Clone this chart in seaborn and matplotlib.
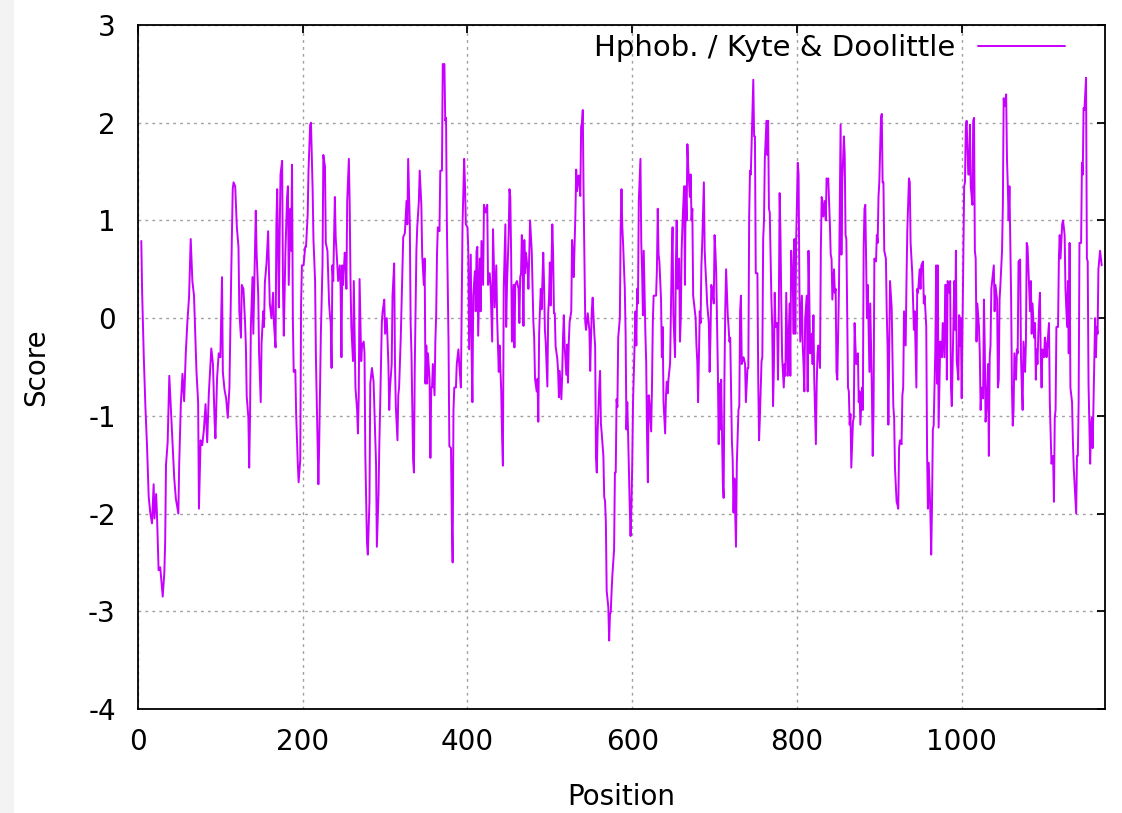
import matplotlib
matplotlib.use("Agg")
import matplotlib.pyplot as plt
import seaborn as sns
from matplotlib.patches import Rectangle

# Kyte & Doolittle hydropathy profile in ten stretches
pos1 = [4, 5, 7, 9, 11, 13, 15, 17, 19, 20, 22, 23, 25, 27, 30, 32, 33, 34, 36, 38,
        40, 42, 44, 46, 49, 50, 52, 54, 56, 58, 60, 62, 64, 66, 68, 70, 71, 73, 74, 76,
        78, 80, 82, 84, 86, 89, 91, 93, 94, 96, 98, 100, 102, 103, 105, 107, 109, 111, 113, 115,
        116]
sc1 = [0.79, 0.27, -0.39, -0.91, -1.32, -1.83, -2.0, -2.1, -1.7, -2.05, -1.8, -2.0, -2.58, -2.55, -2.85, -2.6, -2.28, -1.5, -1.27, -0.59,
       -0.94, -1.29, -1.64, -1.85, -2.0, -1.5, -0.88, -0.57, -0.85, -0.36, -0.03, 0.22, 0.81, 0.38, 0.23, -0.28, -0.55, -0.86, -1.95, -1.25,
       -1.3, -1.14, -0.88, -1.27, -0.77, -0.31, -0.47, -1.06, -1.23, -0.61, -0.36, -0.4, 0.42, -0.55, -0.73, -0.82, -1.02, -0.71, 0.36, 1.32,
       1.39]

pos2 = [118, 120, 122, 123, 125, 126, 128, 130, 131, 132, 134, 135, 136, 137, 139, 140, 142, 143, 144, 146,
        147, 149, 150, 152, 153, 154, 156, 158, 159, 160, 162, 164, 165, 167, 168, 169, 171, 172, 173, 175,
        176, 177, 179, 181, 182, 183, 185, 186, 187, 188, 189, 191, 192, 194, 195, 197, 198, 199, 201, 203,
        204, 206, 207, 209, 210, 212, 213, 215, 216, 218, 219, 220, 222, 224, 225, 227, 228, 230, 232, 233]
sc2 = [1.35, 0.93, 0.73, 0.07, -0.2, 0.34, 0.3, -0.05, -0.3, -0.8, -1.02, -1.53, -1.02, -0.09, 0.42, -0.16, 0.69, 1.1, 0.67, 0.23,
       -0.36, -0.86, -0.26, 0.07, -0.09, 0.36, 0.56, 0.89, 0.48, 0.15, 0.0, 0.26, -0.05, -0.3, 0.96, 1.32, 0.11, 0.85, 1.47, 1.61,
       0.34, -0.18, 0.69, 1.24, 1.35, 0.34, 1.12, 0.69, 1.57, 0.0, -0.55, -0.53, -0.98, -1.49, -1.68, -1.45, 0.15, 0.54, 0.54, 0.73,
       0.73, 1.06, 1.51, 1.98, 2.0, 1.32, 0.81, 0.38, -0.4, -1.27, -1.7, -1.29, -0.16, 0.54, 1.67, 1.55, 0.77, 0.69, 0.15, 0.03]

pos3 = [234, 235, 236, 237, 239, 240, 241, 243, 245, 246, 247, 248, 249, 251, 252, 253, 254, 256, 257, 258,
        259, 261, 262, 264, 266, 267, 268, 269, 271, 272, 274, 275, 276, 278, 279, 281, 282, 284, 286, 287,
        289, 290, 292, 293, 294, 296, 297, 299, 300, 302, 304, 305, 306, 308, 309, 311, 312, 313, 315, 316,
        317, 319, 321, 322, 324, 326, 327, 328, 330, 331, 332, 334, 335, 336, 338, 339, 341, 342, 344, 345,
        347, 348, 349]
sc3 = [-0.05, -0.51, 0.54, 0.38, 1.24, 0.83, 0.69, 0.38, 0.54, 0.3, -0.4, 0.54, 0.34, 0.67, 0.6, 0.3, 1.2, 1.63, 1.16, 0.38,
       -0.09, -0.44, 0.38, -0.71, -0.94, -1.18, -0.79, 0.4, -0.44, -0.28, -0.24, -0.36, -1.41, -2.3, -2.42, -1.88, -0.67, -0.51, -0.65, -0.94,
       -1.49, -2.34, -1.8, -1.29, -0.9, -0.05, 0.07, 0.19, -0.16, 0.0, -0.47, -0.94, -0.71, -0.47, 0.23, 0.56, -0.47, -0.9, -1.25, -0.79,
       -0.71, -0.2, 0.46, 0.83, 0.87, 1.2, 0.96, 1.63, 0.96, -0.05, -0.36, -1.45, -1.58, -0.51, 0.69, 0.93, 1.2, 1.51, 1.16, 0.65,
       0.34, 0.61, -0.67]

pos4 = [350, 351, 352, 354, 355, 356, 357, 358, 360, 361, 362, 363, 364, 366, 367, 369, 370, 372, 373, 374,
        375, 377, 378, 380, 381, 382, 383, 384, 386, 387, 389, 390, 392, 394, 396, 397, 398, 400, 401, 402,
        404, 405, 406, 407, 409, 410, 411, 412, 413, 415, 416, 417, 419, 420, 422, 424, 425, 427, 428, 430,
        431, 432, 433, 435, 436, 437, 438, 439, 441, 442, 443, 444, 446, 447, 448, 450, 451, 452, 453, 454,
        456, 457, 458, 460, 462, 463, 464, 465, 466]
sc4 = [-0.28, -0.67, -0.36, -0.63, -1.43, -0.71, -0.71, -0.47, -0.79, -0.24, 0.03, 0.65, 0.93, 0.89, 1.51, 1.51, 2.6, 2.6, 2.02, 2.05,
       0.96, -0.24, -1.31, -1.33, -2.07, -2.5, -0.94, -0.71, -0.71, -0.47, -0.32, -0.47, -0.71, 0.96, 1.63, 1.35, 0.96, 0.93, 0.69, -0.32,
       0.65, -0.36, -0.86, 0.23, 0.48, 0.07, 0.69, 0.73, -0.18, 0.61, 0.07, 0.79, 0.34, 1.16, 1.08, 1.16, 0.34, 0.46, 0.34, -0.24,
       0.91, 0.58, 0.11, 0.54, 0.0, -0.28, -0.55, -0.28, -0.75, -1.21, -1.51, 0.3, 0.96, -0.09, 0.34, 0.85, 1.32, 1.24, 0.65, -0.24,
       0.34, -0.3, 0.34, 0.38, 0.3, -0.05, 0.42, 0.46, 0.85]

pos5 = [467, 468, 469, 470, 471, 473, 474, 475, 476, 478, 479, 480, 481, 482, 484, 485, 486, 487, 488, 489,
        490, 492, 493, 494, 495, 497, 498, 499, 500, 501, 503, 504, 505, 506, 507, 509, 510, 511, 512, 514,
        515, 516, 517, 518, 520, 521, 522, 523, 524, 526, 527, 528, 529, 531, 532, 533, 534, 535, 537, 538,
        539, 540, 541, 543, 544, 545, 546, 548, 549, 550, 551, 552, 554, 555, 556, 557, 558, 560, 561, 562,
        563, 565, 566, 567, 568, 569, 571, 572, 573, 574, 575, 576, 578, 579, 580, 581, 582]
sc5 = [0.46, -0.08, 0.8, 0.46, 0.67, 0.5, 0.3, 0.67, 1.0, 0.69, 0.34, -0.04, -0.2, -0.62, -0.75, -0.62, -1.06, -0.16, 0.09, 0.3,
       0.09, 0.67, 0.34, -0.12, -0.25, -0.7, 0.05, 0.21, 0.57, 0.13, 0.96, 0.65, 0.05, 0.05, -0.29, -0.41, -0.54, -0.81, -0.54, -0.83,
       -0.58, -0.2, 0.03, -0.29, -0.58, -0.27, -0.66, -0.25, -0.04, 0.07, 0.8, 0.67, 0.42, 1.05, 1.52, 1.3, 1.42, 1.46, 1.25, 1.96,
       2.0, 2.13, 1.23, -0.04, -0.12, -0.04, 0.05, -0.12, -0.54, -0.2, 0.09, 0.21, -0.16, -0.29, -1.43, -1.58, -1.16, -0.7, -0.54, -1.08,
       -1.18, -1.41, -1.83, -1.87, -2.08, -2.79, -2.96, -3.3, -3.04, -3.0, -2.79, -2.62, -2.37, -1.58, -1.58, -0.83, -0.91]

pos6 = [583, 585, 586, 587, 588, 589, 591, 592, 593, 594, 595, 597, 598, 599, 600, 601, 602, 604, 605, 606,
        607, 608, 610, 611, 612, 613, 614, 616, 617, 618, 619, 620, 621, 623, 624, 625, 626, 627, 629, 630,
        631, 632, 633, 635, 636, 637, 638, 640, 641, 642, 643, 644, 646, 647, 648, 649, 650, 652, 653, 654,
        655, 657, 658, 659, 660, 661, 663, 664, 665, 666, 667, 668, 670, 671, 672, 673, 674, 676, 677, 678,
        679, 680, 682, 683, 684, 685, 687, 688, 689, 690, 691, 693, 694, 695, 696, 697, 699, 700]
sc6 = [-0.2, 0.0, 0.93, 1.32, 0.93, 0.75, 0.3, -0.16, -1.14, -0.86, -1.18, -1.93, -2.23, -1.95, -1.51, -0.86, -0.55, 0.07, -0.28, 0.3,
       0.15, 1.2, 1.63, 0.77, 0.48, 0.03, 0.69, -0.16, -0.46, -1.21, -1.68, -0.79, -0.86, -1.16, -0.71, -0.05, 0.23, 0.23, 0.23, 0.5,
       1.12, 0.65, 0.58, 0.19, -0.4, -0.09, -0.86, -1.18, -0.79, -0.65, -0.77, -0.63, -0.46, 0.11, 0.61, 0.93, 0.03, -0.4, 0.52, 1.0,
       0.3, 0.61, -0.24, 0.0, 0.69, 0.96, 1.35, 0.34, 1.35, 1.0, 1.78, 1.55, 1.24, 1.47, 1.0, 1.12, 0.23, 0.07, 0.0, -0.28,
       -0.44, -0.86, 0.07, -0.05, 0.54, 0.77, 1.39, 0.69, 0.5, 0.34, 0.15, -0.05, -0.55, -0.2, 0.34, 0.3, 0.15, 0.85]

pos7 = [701, 702, 704, 705, 706, 707, 708, 710, 711, 712, 713, 714, 716, 717, 718, 719, 721, 722, 723, 724,
        725, 726, 727, 729, 730, 731, 732, 733, 735, 736, 737, 738, 740, 741, 742, 743, 744, 746, 747, 748,
        749, 750, 752, 753, 754, 755, 757, 758, 759, 760, 761, 763, 764, 765, 766, 767, 769, 770, 771, 772,
        773, 774, 776, 777, 778, 779, 780, 781, 782, 784, 785, 786, 787, 789, 790, 791, 792, 793, 795, 796,
        797, 798, 799, 801, 802, 803, 804, 806, 807, 808, 809, 810, 812, 813, 814, 815, 816]
sc7 = [0.69, 0.46, -0.55, -1.29, -0.67, -1.14, -0.63, -1.68, -1.84, -0.59, 0.11, 0.5, 0.03, -0.09, -0.24, -0.2, -1.25, -1.45, -1.99, -1.64,
       -1.99, -2.34, -1.49, -0.94, -0.9, 0.07, 0.23, -0.47, -0.4, -0.43, -0.47, -0.86, -0.51, -0.51, 1.04, 1.51, 1.47, 2.09, 2.44, 1.86,
       1.86, 0.46, 0.46, -0.63, -1.25, -1.02, -0.44, -0.4, 0.81, 1.0, 1.63, 2.02, 1.67, 2.02, 1.12, 1.08, 0.19, -0.09, -0.9, -0.51,
       0.26, -0.09, -0.05, -0.63, 0.11, 1.28, 0.85, 0.15, -0.4, -0.71, -0.47, -0.59, 0.26, -0.59, -0.2, 0.15, -0.59, 0.69, 0.34, -0.16,
       0.81, -0.16, 0.77, 1.59, 1.47, 0.3, -0.24, 0.23, -0.28, -0.47, -0.75, 0.0, 0.23, -0.75, 0.69, 0.23, -0.36]

pos8 = [818, 819, 820, 821, 823, 824, 825, 826, 828, 829, 830, 831, 832, 834, 835, 836, 837, 838, 840, 841,
        842, 843, 845, 846, 847, 848, 849, 851, 852, 853, 854, 855, 857, 858, 859, 860, 862, 863, 864, 865,
        866, 868, 869, 870, 871, 872, 874, 875, 876, 877, 879, 880, 881, 882, 883, 885, 886, 887, 888, 889,
        891, 892, 893, 894, 896, 897, 898, 899, 900, 902, 903, 904, 905, 906, 908, 909, 910, 911, 912, 913,
        915, 916, 917, 918, 919, 921, 922, 923, 924, 925, 927, 928, 929, 930, 932, 933]
sc8 = [-0.16, -0.47, 0.03, -0.63, -1.29, -0.67, -0.36, -0.28, -0.51, 0.69, 1.24, 1.2, 1.04, 1.2, 1.0, 1.43, 1.39, 1.43, 0.96, 0.65,
       0.61, 0.19, 0.5, 0.26, 0.3, -0.55, -0.63, 0.3, 1.2, 1.98, 0.65, 1.39, 1.86, 1.67, 0.85, 0.81, -0.71, -0.75, -1.09, -0.98,
       -1.53, -1.06, -1.02, -0.05, -0.28, -0.47, -0.36, -0.86, -0.75, -1.09, -0.71, -0.94, 0.73, 1.12, 1.16, 0.0, 0.34, -0.09, -0.55, 0.15,
       -0.75, -1.41, -0.94, 0.61, 0.58, 0.85, 0.77, 1.24, 1.39, 2.05, 2.09, 1.39, 1.39, 0.69, 0.61, 0.07, -0.28, -1.09, -0.4, 0.38,
       0.11, -0.4, -0.9, -1.02, -1.53, -1.88, -1.91, -1.95, -1.33, -1.25, -1.29, -0.79, -0.71, 0.07, -0.28, 0.38]

pos9 = [934, 936, 937, 938, 940, 941, 942, 943, 945, 946, 947, 949, 950, 951, 953, 954, 955, 957, 958, 959,
        960, 962, 963, 964, 965, 966, 968, 969, 970, 971, 972, 974, 975, 976, 977, 979, 980, 981, 982, 983,
        985, 986, 987, 988, 989, 991, 992, 993, 994, 996, 997, 998, 999, 1000, 1002, 1003, 1004, 1005, 1006, 1008,
        1009, 1010, 1011, 1013, 1014, 1015, 1016, 1017, 1018, 1019, 1021, 1022, 1023, 1024, 1026, 1027, 1028, 1029, 1030, 1032,
        1033, 1034, 1035, 1036, 1038, 1039, 1040, 1041, 1043, 1044, 1045, 1046, 1047, 1049]
sc9 = [0.9, 1.43, 1.39, 0.77, 0.46, 0.15, -0.12, 0.07, -0.71, 0.3, 0.26, 0.5, 0.3, 0.54, 0.58, 0.15, 0.23, -0.09, -1.37, -1.95,
       -1.48, -1.99, -2.42, -1.91, -1.14, -1.1, -0.32, 0.54, -0.67, 0.54, -1.12, -0.24, -0.36, -0.4, -0.05, -0.4, 0.34, 0.34, -0.63, 0.38,
       0.26, 0.38, -0.71, -0.9, -0.47, 0.38, -0.12, 0.69, -0.44, -0.63, 0.03, -0.28, 0.0, -0.82, 0.61, 1.35, 1.39, 1.94, 2.02, 1.47,
       1.47, 1.98, 1.35, 1.16, 2.02, 2.05, 0.69, 0.61, -0.24, 0.15, -0.09, -0.36, -0.94, -0.71, -0.82, 0.19, -0.28, -1.06, -0.94, -0.47,
       -1.41, -0.4, -0.28, 0.3, 0.46, 0.54, 0.07, 0.34, 0.19, -0.71, -0.63, 0.19, 0.34, 0.69]

pos10 = [1050, 1051, 1052, 1054, 1055, 1056, 1057, 1058, 1060, 1061, 1062, 1063, 1064, 1066, 1067, 1068, 1069, 1071, 1072, 1073,
         1074, 1075, 1077, 1078, 1079, 1080, 1081, 1083, 1084, 1085, 1086, 1088, 1089, 1090, 1091, 1092, 1094, 1095, 1096, 1097,
         1098, 1100, 1101, 1102, 1103, 1105, 1106, 1107, 1108, 1109, 1111, 1112, 1113, 1114, 1115, 1117, 1118, 1119, 1120, 1122,
         1123, 1124, 1125, 1126, 1128, 1129, 1130, 1131, 1132, 1134, 1135, 1136, 1137, 1139, 1140, 1141, 1142, 1143, 1145, 1146,
         1147, 1148, 1149, 1151, 1152, 1153, 1154, 1156, 1157, 1158, 1159, 1160, 1162, 1163, 1164, 1165, 1166, 1168, 1169, 1170]
sc10 = [1.16, 2.25, 2.17, 2.29, 1.63, 1.35, 1.0, 1.35, 0.23, -0.71, -1.1, -0.94, -0.36, -0.63, -0.32, -0.36, 0.58, 0.6, -0.4, -0.71,
        -0.94, -0.24, -0.55, -0.24, 0.77, 0.73, 0.5, 0.07, 0.38, -0.16, 0.15, -0.2, -0.05, -0.63, -0.32, -0.47, 0.11, 0.26, -0.4, -0.71,
        -0.32, -0.4, -0.2, -0.27, -0.4, -0.16, -0.05, -0.86, -1.18, -1.49, -1.41, -1.88, -1.02, -0.94, -0.09, -0.09, 0.61, 0.85, 0.61, 0.96,
        1.0, 0.93, 0.85, 0.3, -0.09, 0.38, -0.36, 0.77, -0.71, -0.86, -1.25, -1.53, -1.68, -2.0, -1.41, -1.41, -0.86, 0.77, 0.77, 1.59,
        1.47, 2.15, 2.13, 2.46, 0.61, 0.58, -0.67, -1.49, -1.1, -1.02, -1.33, -0.9, 0.0, -0.4, -0.09, -0.16, 0.5, 0.69, 0.61, 0.54]

x_ticks = [0, 200, 400, 600, 800, 1000]
y_ticks = [-4, -3, -2, -1, 0, 1, 2, 3]
series_label = "Hphob. / Kyte & Doolittle"

position = pos1 + pos2 + pos3 + pos4 + pos5 + pos6 + pos7 + pos8 + pos9 + pos10
score = sc1 + sc2 + sc3 + sc4 + sc5 + sc6 + sc7 + sc8 + sc9 + sc10

sns.set_theme(style="white")
plt.rcParams["font.family"] = ["DejaVu Sans"]
plt.rcParams["axes.unicode_minus"] = False

W, H = 1122, 813
fig = plt.figure(figsize=(W / 100, H / 100), dpi=100)
# light grey strip on the left edge of the screenshot
fig.patches.append(Rectangle((0, 0), 14 / W, 1, transform=fig.transFigure,
                             facecolor="#f3f3f3", edgecolor="none", zorder=0))

ax = fig.add_axes([138 / W, 1 - 709 / H, 967 / W, 684 / H])
sns.lineplot(x=position, y=score, ax=ax, color="#c800ff", linewidth=1.4,
             estimator=None, sort=False, label=series_label)

ax.set_xlim(0, 1174)
ax.set_ylim(-4, 3)
ax.set_xticks(x_ticks)
ax.set_yticks(y_ticks)
ax.grid(True, color="#a0a0a0", linestyle=(0, (2, 3)), linewidth=1.0)
ax.tick_params(direction="in", length=6, width=1.3, top=True, right=True,
               labelsize=20, colors="black")
ax.tick_params(axis="x", pad=14)
ax.tick_params(axis="y", pad=16)
for sp in ax.spines.values():
    sp.set_color("black")
    sp.set_linewidth(1.3)

ax.set_xlabel("Position", fontsize=20, color="black")
ax.set_ylabel("Score", fontsize=20, color="black")
ax.xaxis.set_label_coords(0.5, -(797 - 709) / 684)
ax.xaxis.label.set_verticalalignment("center")
ax.yaxis.set_label_coords(-(138 - 36) / 967, 0.5)
ax.yaxis.label.set_verticalalignment("center")

leg = ax.legend(loc="upper right", bbox_to_anchor=((1065 - 138) / 967, (709 - 34) / 684),
                markerfirst=False, frameon=False, fontsize=21, handlelength=3.0,
                handletextpad=0.75, borderpad=0, borderaxespad=0)
for t in leg.get_texts():
    t.set_color("black")

fig.savefig("out.png", dpi=100)
